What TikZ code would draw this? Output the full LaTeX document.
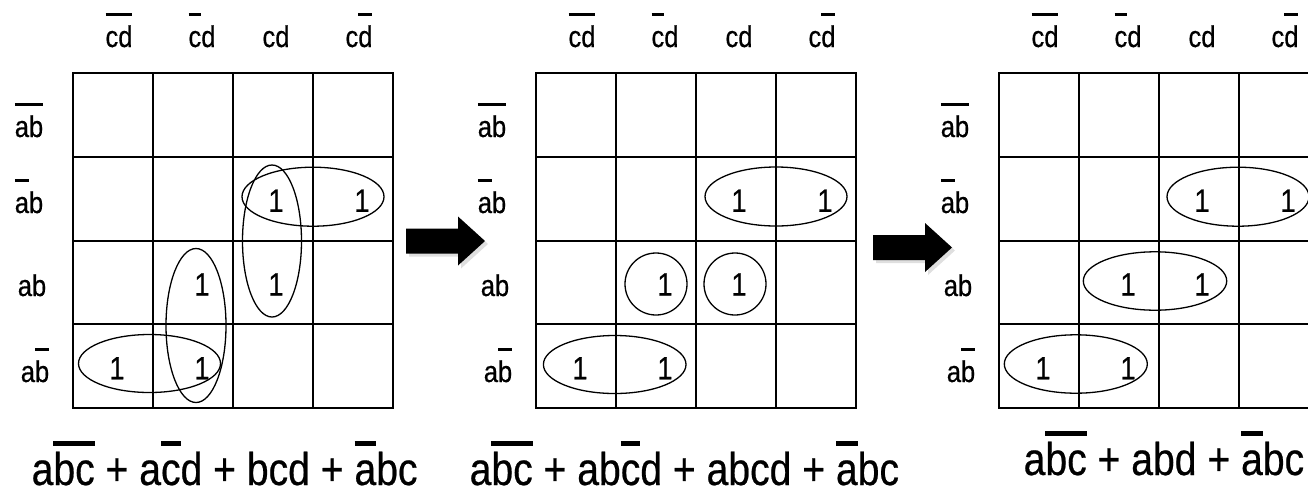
\documentclass[tikz,border=0pt]{standalone}
\usepackage{fontspec}
\setmainfont{Liberation Sans}[FakeStretch=0.85,FakeBold=0.5]
\usetikzlibrary{shadows}
\newcommand\ovl[2][1.04em]{\setbox0\hbox{#2}\rlap{\rule[#1]{\wd0}{0.1em}}\box0\relax}
\newcommand\ovx[1]{\ovl[.85em]{#1}}

\begin{document}
\begin{tikzpicture}[x=1pt,y=-1pt,
 lab/.style={font=\fontsize{30}{35}\selectfont,anchor=base,inner sep=0pt},
 one/.style={font=\fontsize{32}{37}\selectfont,anchor=base,inner sep=0pt},
 expr/.style={font=\fontsize{46}{54}\selectfont,anchor=base west,inner sep=0pt},
 cell/.style={line width=2pt},
 loop/.style={line width=1.3pt},
 blockarrow/.style={fill=black,drop shadow={opacity=.25,shadow xshift=3pt,shadow yshift=-3pt}}]
\useasboundingbox (0,0) rectangle (1308,491);
\clip (0,0) rectangle (1308,491);
\foreach \L [count=\m] in {73,536,999}{
  \draw[cell] (\L,73) rectangle (\L+320,408);
  \foreach \i in {1,2,3}{
    \draw[cell] (\L+80*\i,73) -- (\L+80*\i,408);
    \draw[cell] (\L,73+83.75*\i) -- (\L+320,73+83.75*\i);}
  \foreach \t/\dx [count=\c] in {\ovl{cd}/46,\ovl{c}d/129,cd/203,c\ovl{d}/286}
    \node[lab] (h\m-\c) at (\L+\dx,47) {\t};
  \foreach \t/\dx/\y [count=\r] in {\ovl{ab}/-44/137,\ovl{a}b/-44/213,ab/-41/296,a\ovl{b}/-38/382}
    \node[lab] (r\m-\r) at (\L+\dx,\y) {\t};
  \foreach \r/\c/\dx in {2/3/3,2/4/9,3/2/9,3/3/3,4/1/4,4/2/9}
    \node[one] (n\m-\r\c) at (\L+80*\c-40+\dx,73+83.75*\r-28.75) {1};
}
% loops of the first map
\draw[loop] (313,196.7) ellipse [x radius=71pt,y radius=29.5pt];
\draw[loop] (272,241) ellipse [x radius=29.5pt,y radius=76pt];
\draw[loop] (196,325.5) ellipse [x radius=30pt,y radius=77pt];
\draw[loop] (149.5,363.5) ellipse [x radius=71pt,y radius=29pt];
% second map
\draw[loop] (776,196.5) ellipse [x radius=71pt,y radius=29.5pt];
\draw[loop] (656,284) circle [radius=31pt];
\draw[loop] (735,284) circle [radius=31pt];
\draw[loop] (614.7,364.5) ellipse [x radius=71.3pt,y radius=29pt];
% third map
\draw[loop] (1238,196.7) ellipse [x radius=71pt,y radius=29.5pt];
\draw[loop] (1155,281) ellipse [x radius=71.7pt,y radius=29.2pt];
\draw[loop] (1075.8,364) ellipse [x radius=71.5pt,y radius=29.2pt];
\node[expr] (ex1) at (31.5,485) {a\ovx{bc} + a\ovx{c}d + bcd + \ovx{a}bc};
\node[expr] (ex2) at (469.5,485) {a\ovx{bc} + ab\ovx{c}d + abcd + \ovx{a}bc};
\node[expr] (ex3) at (1023.5,475) {a\ovx{bc} + abd + \ovx{a}bc};
\foreach \ax/\ay in {406/241,873/247.5}
  \fill[blockarrow] (\ax,\ay-12.5) -- (\ax+52,\ay-12.5) -- (\ax+52,\ay-24.5) -- (\ax+79,\ay)
    -- (\ax+52,\ay+24.5) -- (\ax+52,\ay+12.5) -- (\ax,\ay+12.5) -- cycle;
\end{tikzpicture}
\end{document}
